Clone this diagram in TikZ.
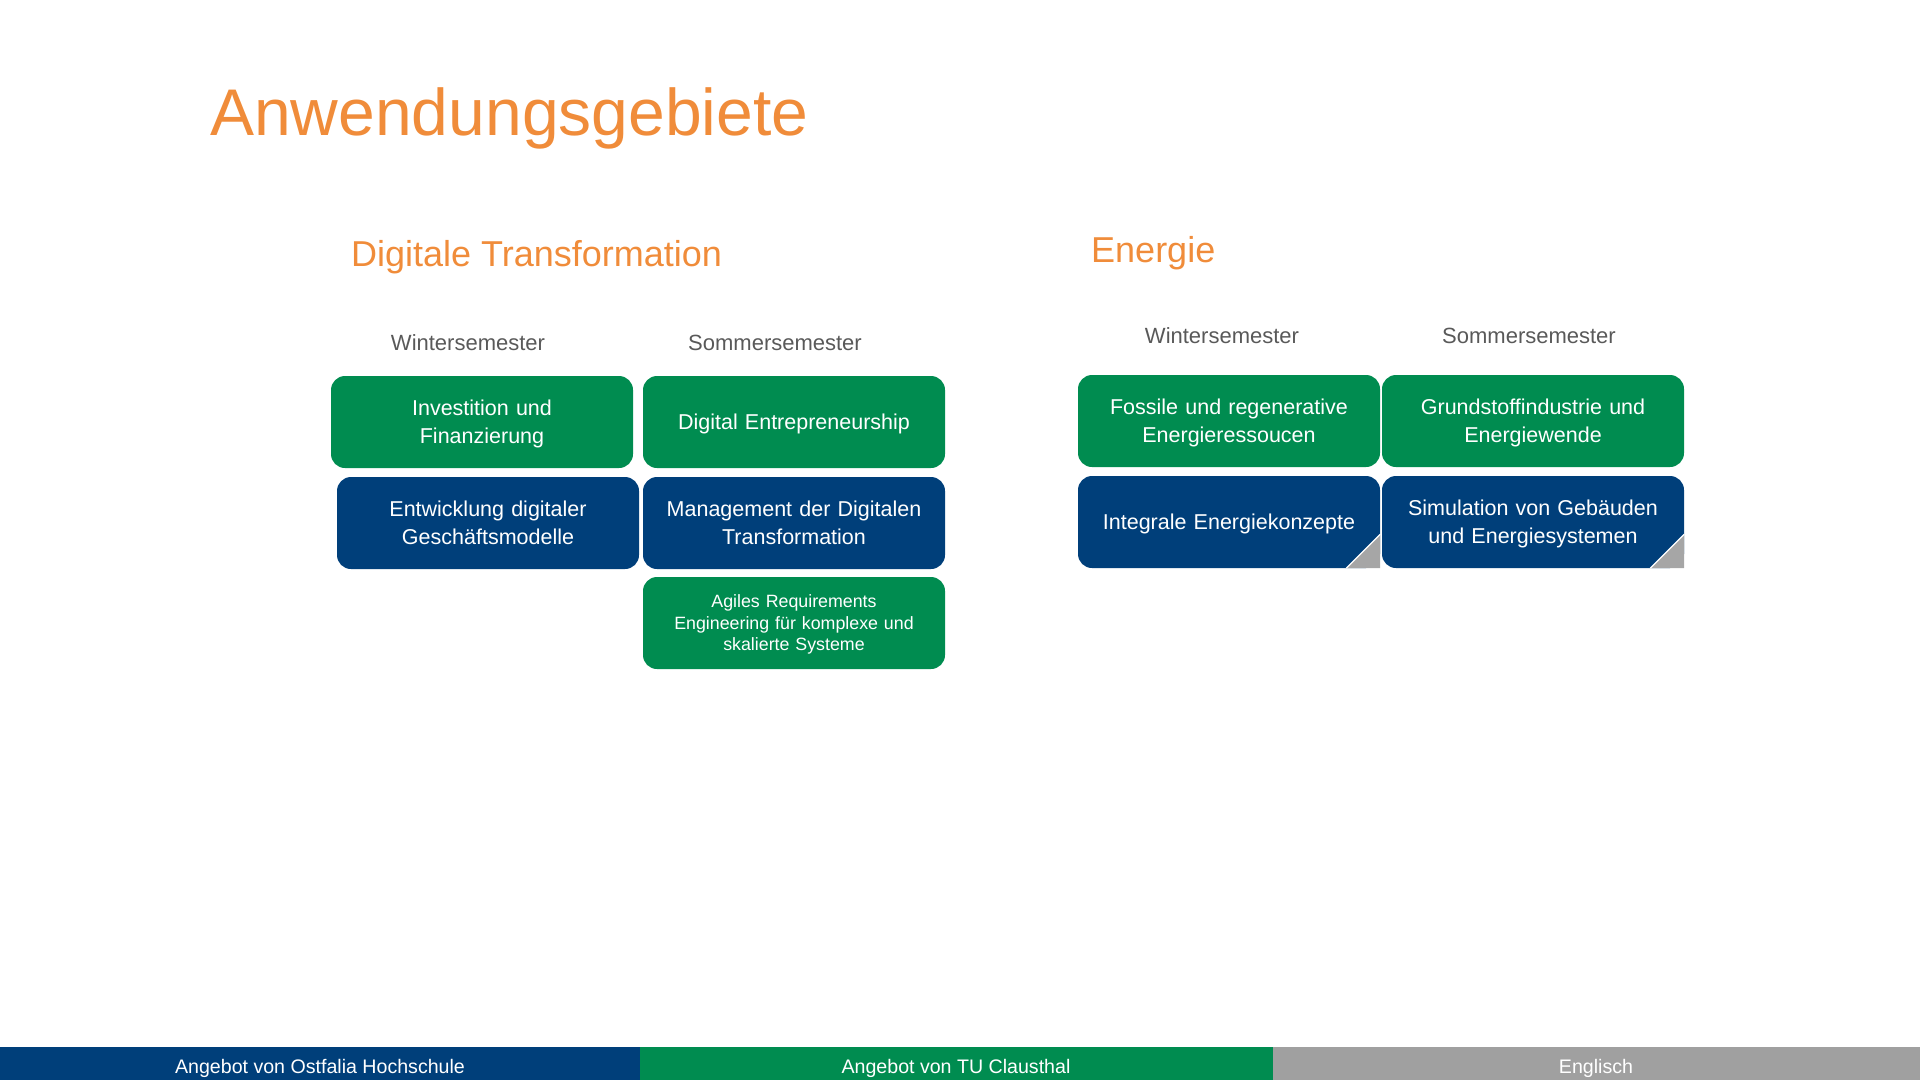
\documentclass[tikz,border=0pt]{standalone}
\usepackage{fontspec}
\setmainfont{Liberation Sans}
\usetikzlibrary{positioning}
\definecolor{tuorange}{RGB}{240,140,58}
\definecolor{tugreen}{RGB}{0,140,80}
\definecolor{ostblue}{RGB}{0,63,122}
\definecolor{labelgray}{RGB}{89,89,89}
\definecolor{footgray}{RGB}{160,160,160}
\definecolor{foldgray}{RGB}{166,166,166}

\begin{document}
\begin{tikzpicture}[
    x=1pt, y=-1pt,
    on grid,
    module/.style={rectangle, rounded corners=14pt, minimum width=302pt,
        minimum height=92pt, text width=292pt, align=center, text=white,
        inner sep=0pt, font=\fontsize{21.5}{27.5}\selectfont,
        execute at begin node={\rule{0pt}{0.905em}},
        execute at end node={\rule[-0.212em]{0pt}{0.212em}}},
    green module/.style={module, fill=tugreen},
    blue module/.style={module, fill=ostblue},
    semester/.style={text=labelgray, font=\fontsize{22}{26}\selectfont,
        anchor=base, inner sep=0pt},
    heading/.style={text=tuorange, font=\fontsize{36}{42}\selectfont,
        anchor=base west, inner sep=0pt},
    footer/.style={text=white, font=\fontsize{19.6}{23}\selectfont,
        anchor=base, inner sep=0pt}]
    \useasboundingbox (0,0) rectangle (1920,1080);

    \node[heading, font=\fontsize{66}{76}\selectfont] (title) at (210,135) {Anwendungsgebiete};
    \node[heading] (digital) at (351,266) {Digitale Transformation};
    \node[heading] (energie) at (1091,262) {Energie};

    \node[semester] (dig_ws) at (468,350) {Wintersemester};
    \node[semester] (dig_ss) at (775,350) {Sommersemester};
    \node[semester] (en_ws) at (1222,343) {Wintersemester};
    \node[semester] (en_ss) at (1529,343) {Sommersemester};

    \node[green module] (invest) at (482,422) {Investition und\\Finanzierung};
    \node[blue module] (entw) [below=101pt of invest, xshift=6pt] {Entwicklung digitaler\\Geschäftsmodelle};
    \node[green module] (entre) [right=312pt of invest] {Digital Entrepreneurship};
    \node[blue module] (mgmt) [below=101pt of entre] {Management der Digitalen\\Transformation};
    \node[green module, font=\fontsize{17.8}{21.5}\selectfont] (agil) [below=100pt of mgmt]
        {Agiles Requirements\\Engineering für komplexe und\\skalierte Systeme};

    \node[green module] (fossil) at (1229,421) {Fossile und regenerative\\Energieressoucen};
    \node[green module] (grund) [right=304pt of fossil] {Grundstoffindustrie und\\Energiewende};
    \node[blue module] (integ) [below=101pt of fossil] {Integrale Energiekonzepte};
    \node[blue module] (simul) [below=101pt of grund] {Simulation von Gebäuden\\und Energiesystemen};

    \foreach \m in {integ, simul} {
        \fill[foldgray] (\m.south east) -- ++(-34,0) -- ++(34,-34) -- cycle;
        \draw[white, line width=1.2pt] (\m.south east) ++(-34,0) -- ++(34,-34);
    }

    \fill[ostblue] (0,1047) rectangle (640,1080);
    \fill[tugreen] (640,1047) rectangle (1273,1080);
    \fill[footgray] (1273,1047) rectangle (1920,1080);
    \node[footer] (ostfalia) at (320,1073) {Angebot von Ostfalia Hochschule};
    \node[footer] (clausthal) at (956,1073) {Angebot von TU Clausthal};
    \node[footer] (englisch) at (1596,1073) {Englisch};
\end{tikzpicture}
\end{document}
